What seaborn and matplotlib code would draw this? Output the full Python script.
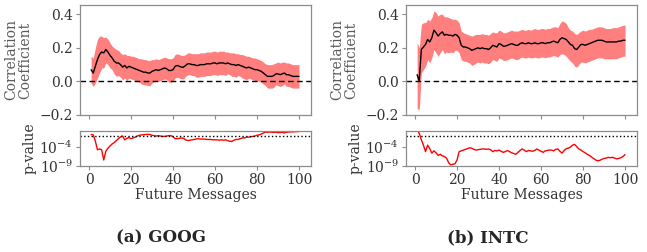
import numpy as np
import pandas as pd
import matplotlib
matplotlib.use("Agg")
import matplotlib.pyplot as plt
import seaborn as sns

# ---------------- data ----------------
future_messages = list(range(1, 101))

goog_corr = [0.07, 0.05, 0.09, 0.13, 0.16, 0.175, 0.17, 0.19, 0.175, 0.155,
             0.14, 0.12, 0.11, 0.11, 0.10, 0.085, 0.095, 0.08, 0.09, 0.085,
             0.08, 0.075, 0.07, 0.065, 0.06, 0.055, 0.055, 0.05, 0.05, 0.06,
             0.065, 0.07, 0.065, 0.07, 0.075, 0.08, 0.075, 0.065, 0.065, 0.07,
             0.09, 0.095, 0.09, 0.085, 0.085, 0.095, 0.105, 0.105, 0.10, 0.10,
             0.095, 0.095, 0.10, 0.10, 0.10, 0.105, 0.105, 0.105, 0.11, 0.11,
             0.105, 0.11, 0.11, 0.11, 0.105, 0.11, 0.105, 0.10, 0.10, 0.095,
             0.10, 0.095, 0.09, 0.085, 0.08, 0.085, 0.08, 0.075, 0.07, 0.07,
             0.065, 0.06, 0.05, 0.04, 0.03, 0.03, 0.03, 0.035, 0.045, 0.045,
             0.04, 0.045, 0.05, 0.04, 0.04, 0.035, 0.03, 0.03, 0.03, 0.03]
goog_upper = [0.15, 0.14, 0.20, 0.25, 0.27, 0.27, 0.26, 0.265, 0.25, 0.23,
              0.21, 0.20, 0.19, 0.185, 0.17, 0.16, 0.165, 0.155, 0.155, 0.15,
              0.15, 0.145, 0.14, 0.135, 0.135, 0.13, 0.13, 0.125, 0.125, 0.13,
              0.13, 0.135, 0.13, 0.135, 0.14, 0.145, 0.14, 0.135, 0.135, 0.14,
              0.16, 0.165, 0.16, 0.155, 0.155, 0.16, 0.17, 0.17, 0.165, 0.165,
              0.165, 0.165, 0.17, 0.17, 0.17, 0.175, 0.175, 0.175, 0.18, 0.18,
              0.175, 0.18, 0.18, 0.18, 0.175, 0.175, 0.17, 0.17, 0.17, 0.165,
              0.165, 0.16, 0.16, 0.155, 0.15, 0.15, 0.145, 0.14, 0.14, 0.135,
              0.13, 0.125, 0.115, 0.105, 0.10, 0.10, 0.10, 0.105, 0.11, 0.115,
              0.11, 0.115, 0.115, 0.11, 0.11, 0.105, 0.10, 0.10, 0.10, 0.10]
goog_lower = [-0.01, -0.03, -0.01, 0.02, 0.05, 0.08, 0.08, 0.11, 0.10, 0.08,
              0.07, 0.045, 0.03, 0.035, 0.025, 0.01, 0.02, 0.005, 0.02, 0.015,
              0.01, 0.005, 0.0, -0.005, -0.015, -0.02, -0.02, -0.025, -0.025, -0.01,
              0.0, 0.005, 0.0, 0.005, 0.01, 0.015, 0.01, -0.005, -0.005, 0.0,
              0.02, 0.025, 0.02, 0.015, 0.015, 0.03, 0.04, 0.04, 0.035, 0.035,
              0.025, 0.025, 0.03, 0.03, 0.03, 0.035, 0.035, 0.035, 0.04, 0.04,
              0.035, 0.04, 0.04, 0.04, 0.035, 0.045, 0.04, 0.03, 0.03, 0.025,
              0.035, 0.03, 0.02, 0.015, 0.01, 0.02, 0.015, 0.01, 0.0, 0.005,
              0.0, -0.005, -0.015, -0.025, -0.04, -0.04, -0.04, -0.035, -0.02, -0.025,
              -0.03, -0.025, -0.015, -0.03, -0.03, -0.035, -0.04, -0.04, -0.04, -0.04]
goog_pvalue_log10 = [-0.8, -0.9, -2.5, -4.8, -4.6, -4.8, -7.5, -5.2, -4.4, -3.8,
                     -3.3, -2.9, -2.4, -1.9, -1.4, -1.2, -2.2, -1.8, -1.6, -1.9,
                     -1.7, -1.5, -1.2, -1.0, -0.9, -0.85, -0.8, -0.75, -0.8, -1.0,
                     -1.1, -1.2, -1.1, -1.2, -1.3, -1.3, -1.2, -1.1, -1.1, -1.4,
                     -1.9, -1.9, -1.8, -1.7, -1.8, -2.2, -2.4, -2.3, -2.2, -2.1,
                     -2.0, -1.9, -2.0, -2.0, -2.0, -2.1, -2.1, -2.1, -2.2, -2.2,
                     -2.2, -2.3, -2.2, -2.3, -2.2, -2.4, -2.6, -2.6, -2.3, -2.1,
                     -2.1, -1.9, -1.7, -1.7, -1.5, -1.5, -1.4, -1.3, -1.2, -1.0,
                     -0.9, -0.7, -0.4, -0.2, -0.2, -0.15, -0.2, -0.25, -0.2, -0.3,
                     -0.3, -0.25, -0.4, -0.2, -0.15, -0.1, -0.1, -0.05, -0.05, 0.0]

intc_corr = [0.04, 0.0, 0.19, 0.205, 0.22, 0.25, 0.235, 0.26, 0.305, 0.29,
             0.27, 0.285, 0.295, 0.275, 0.28, 0.275, 0.275, 0.27, 0.28, 0.275,
             0.26, 0.215, 0.205, 0.205, 0.2, 0.195, 0.185, 0.19, 0.195, 0.2,
             0.195, 0.2, 0.195, 0.195, 0.19, 0.2, 0.215, 0.21, 0.205, 0.225,
             0.22, 0.21, 0.21, 0.215, 0.22, 0.225, 0.22, 0.215, 0.215, 0.225,
             0.23, 0.225, 0.225, 0.23, 0.225, 0.225, 0.23, 0.225, 0.225, 0.23,
             0.23, 0.225, 0.23, 0.23, 0.235, 0.24, 0.235, 0.23, 0.25, 0.26,
             0.255, 0.25, 0.235, 0.22, 0.215, 0.195, 0.19, 0.205, 0.22, 0.22,
             0.215, 0.22, 0.225, 0.23, 0.235, 0.24, 0.245, 0.245, 0.245, 0.24,
             0.235, 0.235, 0.235, 0.235, 0.235, 0.235, 0.24, 0.24, 0.245, 0.245]
intc_upper = [0.23, 0.2, 0.34, 0.35, 0.35, 0.37, 0.36, 0.38, 0.42, 0.41,
              0.39, 0.40, 0.40, 0.385, 0.385, 0.38, 0.375, 0.37, 0.37, 0.365,
              0.35, 0.30, 0.29, 0.285, 0.28, 0.275, 0.27, 0.275, 0.28, 0.28,
              0.28, 0.285, 0.28, 0.28, 0.275, 0.285, 0.295, 0.29, 0.29, 0.305,
              0.30, 0.29, 0.29, 0.295, 0.30, 0.305, 0.30, 0.30, 0.30, 0.305,
              0.31, 0.305, 0.305, 0.31, 0.305, 0.31, 0.315, 0.31, 0.31, 0.315,
              0.315, 0.31, 0.315, 0.315, 0.32, 0.325, 0.325, 0.32, 0.345, 0.36,
              0.355, 0.345, 0.32, 0.305, 0.30, 0.285, 0.28, 0.29, 0.30, 0.305,
              0.30, 0.305, 0.31, 0.31, 0.315, 0.32, 0.325, 0.325, 0.325, 0.32,
              0.315, 0.315, 0.315, 0.32, 0.32, 0.32, 0.325, 0.33, 0.335, 0.335]
intc_lower = [-0.16, -0.17, 0.05, 0.07, 0.09, 0.13, 0.11, 0.14, 0.19, 0.17,
              0.15, 0.17, 0.19, 0.165, 0.175, 0.17, 0.175, 0.17, 0.185, 0.185,
              0.17, 0.13, 0.12, 0.12, 0.115, 0.11, 0.095, 0.10, 0.11, 0.115,
              0.11, 0.115, 0.11, 0.11, 0.105, 0.115, 0.13, 0.125, 0.12, 0.14,
              0.135, 0.125, 0.125, 0.13, 0.135, 0.14, 0.135, 0.13, 0.13, 0.14,
              0.145, 0.14, 0.14, 0.145, 0.14, 0.14, 0.145, 0.14, 0.14, 0.145,
              0.145, 0.14, 0.145, 0.145, 0.15, 0.155, 0.15, 0.145, 0.16, 0.165,
              0.16, 0.15, 0.135, 0.12, 0.11, 0.09, 0.085, 0.10, 0.115, 0.115,
              0.11, 0.115, 0.12, 0.125, 0.13, 0.135, 0.14, 0.14, 0.14, 0.135,
              0.135, 0.135, 0.135, 0.135, 0.135, 0.135, 0.14, 0.145, 0.15, 0.15]
intc_pvalue_log10 = [0.4, -0.5, -2.2, -3.6, -5.3, -3.6, -4.5, -5.7, -5.1, -5.6,
                     -6.3, -6.0, -6.4, -6.6, -7.0, -8.2, -8.8, -8.6, -8.5, -7.5,
                     -5.3, -5.1, -4.9, -4.7, -4.5, -4.3, -4.4, -4.7, -4.9, -4.8,
                     -4.7, -4.6, -4.6, -4.7, -4.6, -4.8, -5.3, -5.0, -5.1, -4.9,
                     -5.2, -5.5, -5.3, -5.0, -5.3, -5.6, -5.8, -6.0, -5.5, -5.0,
                     -4.6, -4.9, -5.3, -5.0, -5.1, -5.2, -5.0, -4.6, -4.9, -5.2,
                     -5.5, -5.1, -5.0, -4.9, -4.9, -5.1, -4.7, -4.6, -5.2, -5.7,
                     -5.0, -4.5, -4.4, -4.1, -3.6, -3.4, -4.0, -4.6, -4.9, -5.3,
                     -5.6, -6.0, -6.3, -6.7, -7.1, -7.5, -7.7, -7.6, -7.3, -7.1,
                     -7.0, -6.8, -6.9, -6.8, -7.0, -7.2, -7.1, -6.9, -6.6, -6.1]

significance_level = 0.05
panels = [("(a) GOOG", goog_corr, goog_lower, goog_upper, goog_pvalue_log10),
          ("(b) INTC", intc_corr, intc_lower, intc_upper, intc_pvalue_log10)]

# ---------------- style ----------------
sns.set_style("white")
plt.rcParams["font.family"] = ["DejaVu Serif"]
plt.rcParams["mathtext.fontset"] = "dejavuserif"
plt.rcParams["axes.edgecolor"] = "0.55"
plt.rcParams["axes.linewidth"] = 0.9
plt.rcParams["xtick.color"] = "0.55"
plt.rcParams["ytick.color"] = "0.55"
plt.rcParams["xtick.labelcolor"] = "0.2"
plt.rcParams["ytick.labelcolor"] = "0.2"

FS = 10
fig = plt.figure(figsize=(6.47, 2.52), dpi=100)

lefts = [80 / 647, 406 / 647]
width = 231 / 647
top_ax_rect_y = (252 - 115) / 252
top_ax_h = 110 / 252
bot_ax_rect_y = (252 - 165.7) / 252
bot_ax_h = 35 / 252
caption_x = [161 / 647, 488 / 647]

for i, (caption, corr, lo, hi, plog) in enumerate(panels):
    df = pd.DataFrame({"x": future_messages, "corr": corr, "lo": lo, "hi": hi,
                       "p": np.power(10.0, plog)})
    ax1 = fig.add_axes([lefts[i], top_ax_rect_y, width, top_ax_h])
    ax2 = fig.add_axes([lefts[i], bot_ax_rect_y, width, bot_ax_h])

    ax1.fill_between(df["x"], df["lo"], df["hi"], color="red", alpha=0.5,
                     linewidth=0)
    sns.lineplot(data=df, x="x", y="corr", ax=ax1, color="black", linewidth=1.0)
    ax1.axhline(0, color="black", linestyle="--", linewidth=1.0, dashes=(4, 2.5))
    ax1.set_xlim(-4.3, 105.7)
    ax1.set_ylim(-0.2, 0.455)
    ax1.set_yticks([-0.2, 0.0, 0.2, 0.4])
    ax1.set_yticklabels(["\u22120.2", "0.0", "0.2", "0.4"])
    ax1.set_xticks([0, 20, 40, 60, 80, 100])
    ax1.set_xticklabels([])
    ax1.set_xlabel("")
    ax1.set_ylabel("Correlation\nCoefficient", fontsize=FS, color="0.35",
                   linespacing=1.0, labelpad=5)
    ax1.tick_params(axis="both", which="both", direction="out", length=3,
                    width=0.8, labelsize=FS, pad=2, left=True, bottom=True)

    sns.lineplot(data=df, x="x", y="p", ax=ax2, color="red", linewidth=1.0)
    ax2.axhline(significance_level, color="black", linestyle=":", linewidth=1.0)
    ax2.set_yscale("log")
    ax2.set_xlim(-4.3, 105.7)
    ax2.set_ylim(1e-9, 10 ** 0.2)
    ax2.set_yticks([1e-9, 1e-4])
    ax2.set_yticklabels([r"$10^{-9}$", r"$10^{-4}$"])
    ax2.minorticks_off()
    ax2.set_xticks([0, 20, 40, 60, 80, 100])
    ax2.set_xlabel("Future Messages", fontsize=FS, color="0.2", labelpad=1)
    ax2.set_ylabel("p-value", fontsize=FS, color="0.2", labelpad=2)
    ax2.tick_params(axis="both", which="both", direction="out", length=3,
                    width=0.8, labelsize=FS, pad=2, left=True, bottom=True)

    fig.text(caption_x[i], (252 - 238) / 252, caption, ha="center", va="center",
             fontsize=12, fontweight="bold", color="0.15")

fig.savefig("out.png", dpi=100)
